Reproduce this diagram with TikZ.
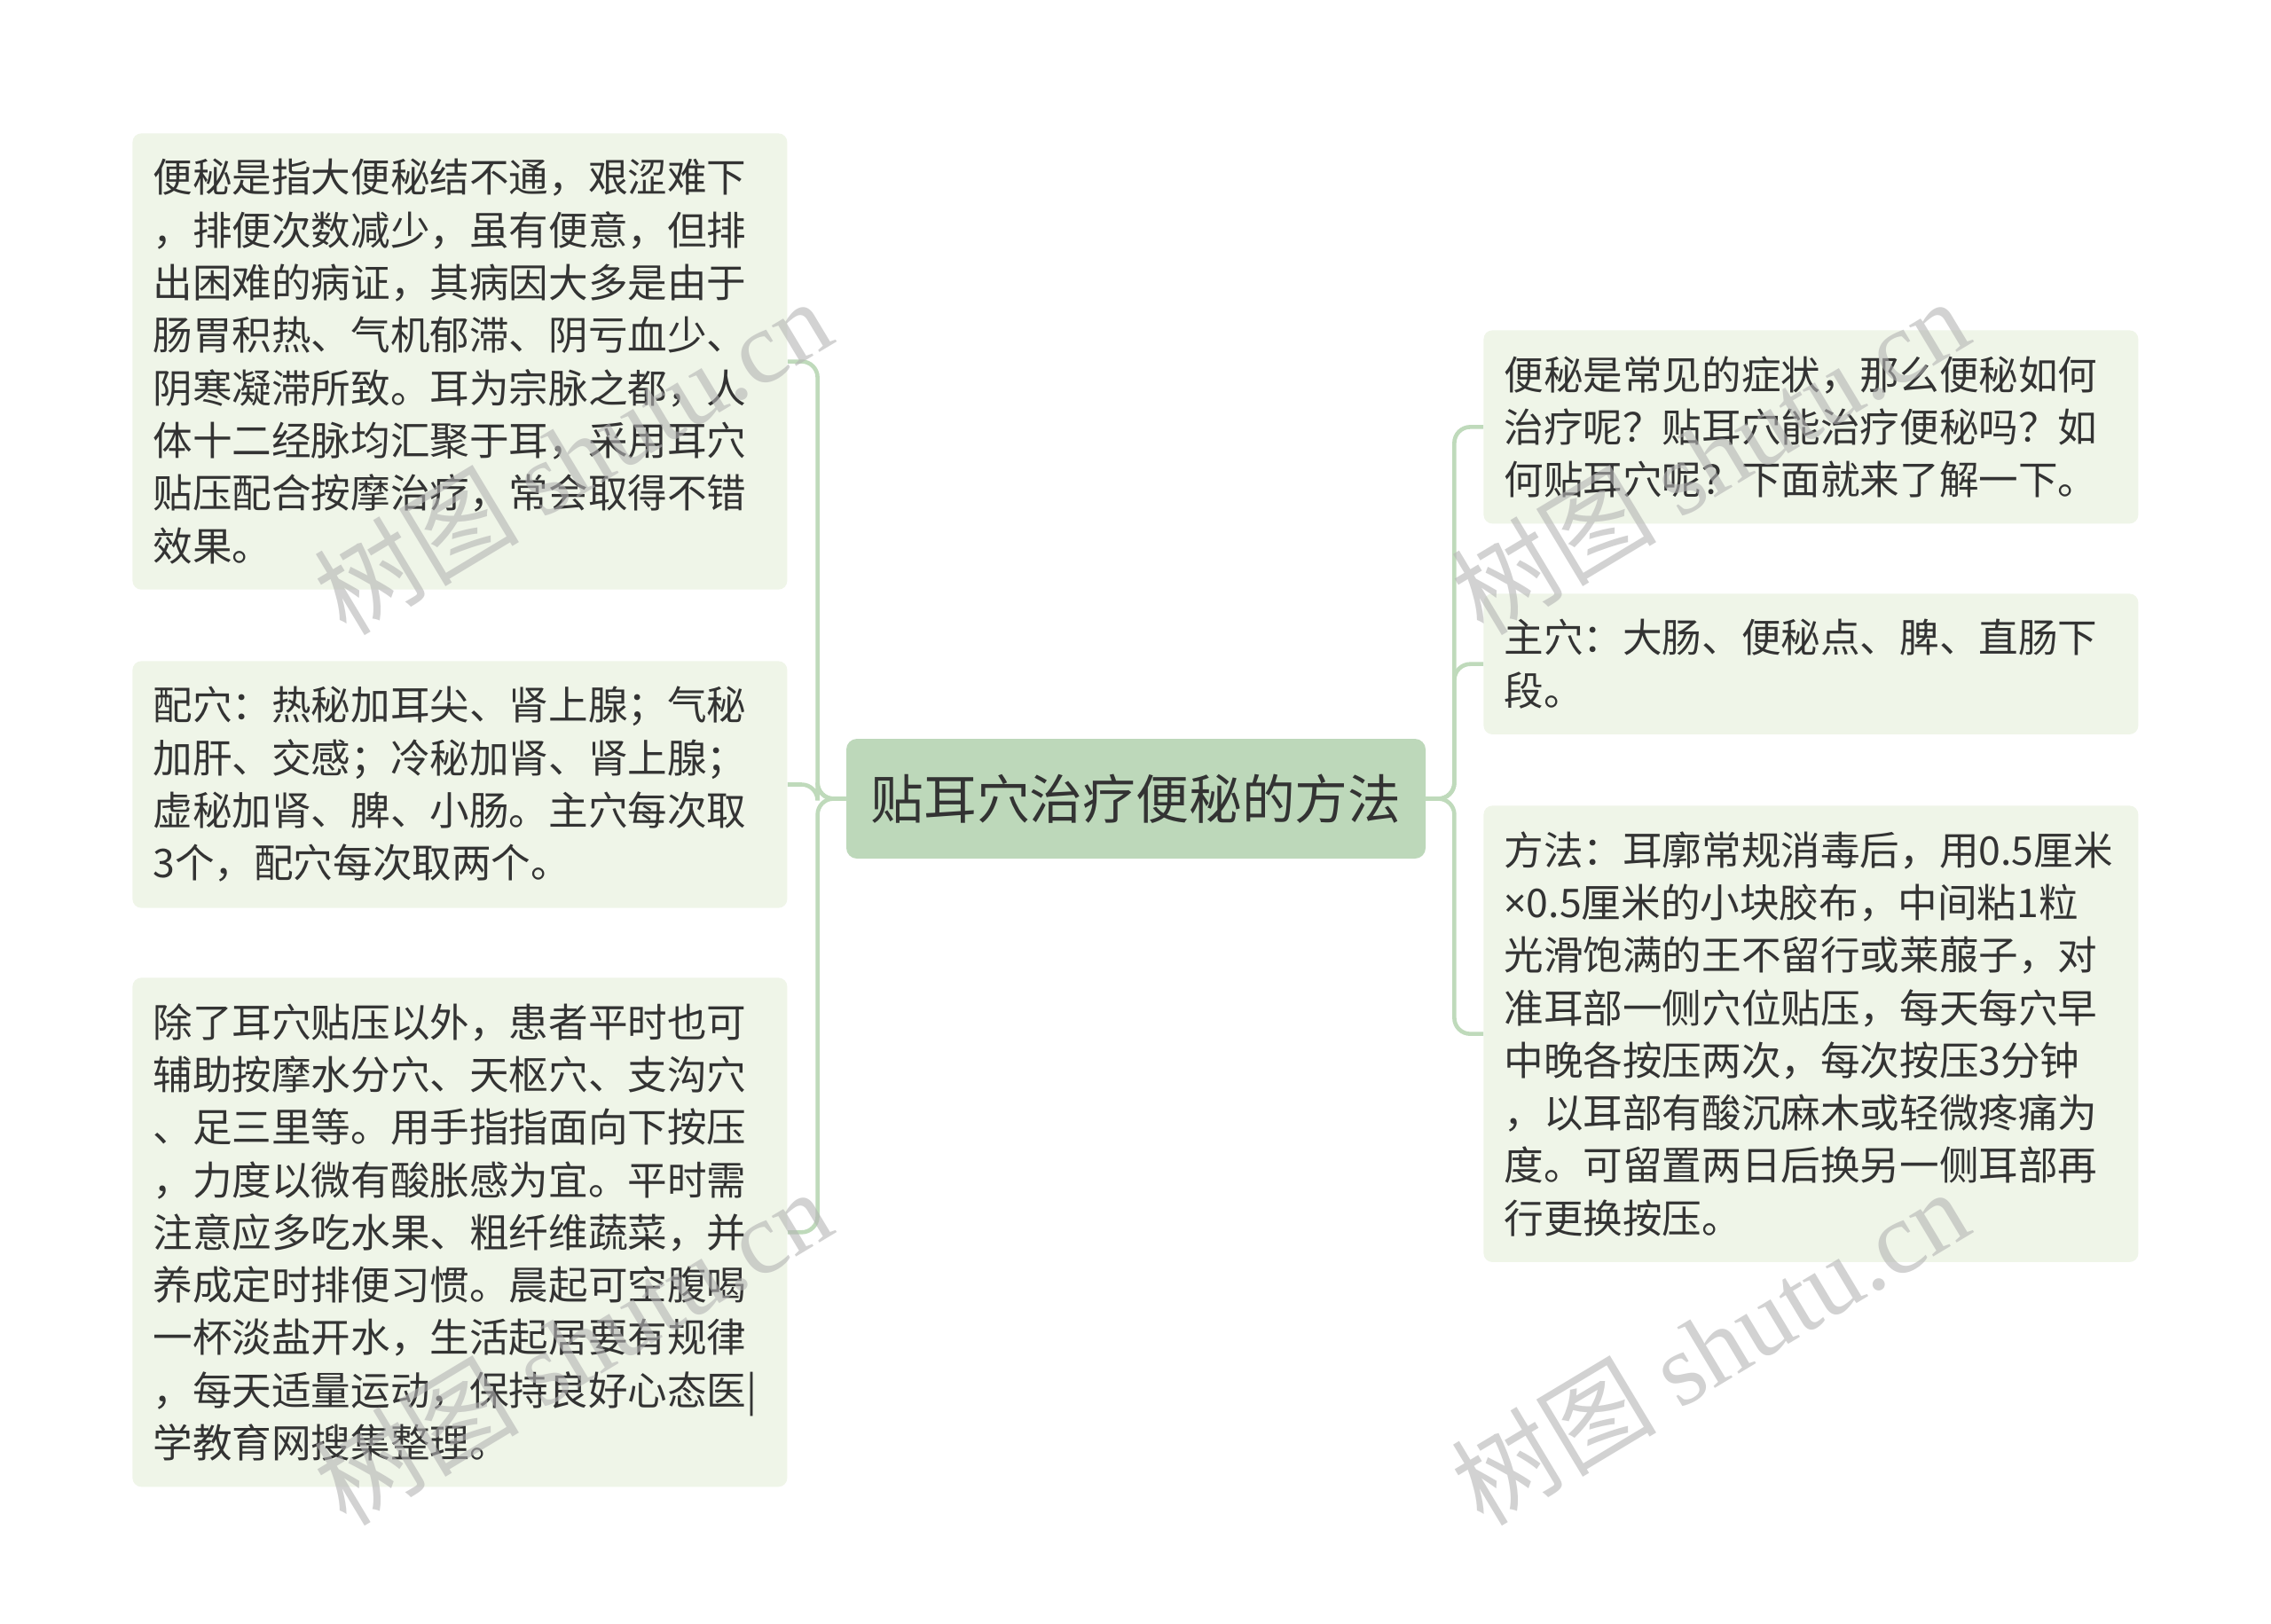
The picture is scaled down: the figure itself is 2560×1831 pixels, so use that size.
\documentclass[tikz,border=0pt]{standalone}
\usepackage{fontspec}
\setmainfont{Noto Sans CJK SC}
\newfontfamily\wmlatin{Liberation Serif}
\newfontfamily\symfont{Noto Sans}
\usepackage{tikz}

\definecolor{leaffill}{HTML}{EFF5E8}
\definecolor{rootfill}{HTML}{BDD8BA}
\definecolor{linkcol}{HTML}{BFDABB}
\definecolor{txtcol}{HTML}{333333}
\definecolor{wmcol}{HTML}{B4B4B4}

\begin{document}
\begin{tikzpicture}[x=0.5pt,y=0.5pt,yscale=-1,
    leaf/.style={fill=leaffill, rounded corners=5pt, anchor=north west, text width=346pt,
        inner xsep=11.5pt, inner ysep=14.5pt, align=left, text=txtcol,
        font=\fontsize{22.3}{29.65}\selectfont},
    root/.style={fill=rootfill, rounded corners=6pt, minimum width=326.5pt, minimum height=67.5pt,
        inner sep=0pt, text=txtcol, font=\fontsize{29.9}{36}\selectfont},
    link/.style={draw=linkcol, line width=2.3pt, rounded corners=9pt},
    wmark/.style={text=wmcol, opacity=0.6, rotate=31, inner sep=0pt}]

    \fill[white] (0,0) rectangle (2560,1831);
    \useasboundingbox (0,0) rectangle (2560,1831);

    % centre
    \node[root] (root) at (1280.5,900.5) {贴耳穴治疗便秘的方法};

    % left side
    \node[leaf] (defn) at (149,150) {便秘是指大便秘结不通，艰涩难下\\%
，排便次数减少，虽有便意，但排\\%
出困难的病证，其病因大多是由于\\%
肠胃积热、气机郁滞、阴亏血少、\\%
阴寒凝滞所致。耳为宗脉之都，人\\%
体十二经脉均汇聚于耳，采用耳穴\\%
贴压配合按摩治疗，常会取得不错\\%
效果。};

    \node[leaf] (pei) at (149,745) {配穴：热秘加耳尖、肾上腺；气秘\\%
加肝、交感；冷秘加肾、肾上腺；\\%
虚秘加肾、脾、小肠。主穴每次取\\%
3个，配穴每次取两个。};

    \node[leaf] (extra) at (149,1102) {除了耳穴贴压以外，患者平时也可\\%
辅助按摩水分穴、天枢穴、支沟穴\\%
、足三里等。用手指指面向下按压\\%
，力度以微有酸胀感为宜。平时需\\%
注意应多吃水果、粗纤维蔬菜，并\\%
养成定时排便习惯。晨起可空腹喝\\%
一杯淡盐开水，生活起居要有规律\\%
，每天适量运动，保持良好心态医|\\%
学教育网搜集整理。};

    % right side
    \node[leaf] (intro) at (1672,372) {便秘是常见的症状，那么便秘如何\\%
治疗呢？贴耳穴能治疗便秘吗？如\\%
何贴耳穴呢？下面就来了解一下。};

    \node[leaf] (zhu) at (1672,669) {主穴：大肠、便秘点、脾、直肠下\\%
段。};

    \node[leaf] (fangfa) at (1672,908) {方法：耳廓常规消毒后，用0.5厘米\\%
{\symfont ×}0.5厘米的小块胶布，中间粘1粒\\%
光滑饱满的王不留行或莱菔子，对\\%
准耳部一侧穴位贴压，每天每穴早\\%
中晚各按压两次，每次按压3分钟\\%
，以耳部有酸沉麻木或轻微疼痛为\\%
度。可留置两日后换另一侧耳部再\\%
行更换按压。};

    % links
    \foreach \n in {defn,pei,extra}
        \draw[link] (root.west) -- ++(-32,0) |- (\n.east);
    \foreach \n in {intro,zhu,fangfa}
        \draw[link] (root.east) -- ++(32,0) |- (\n.west);

    % watermarks
    \node[wmark] (wm1) at (645,514) {\fontsize{58}{60}\selectfont 树图 {\wmlatin shutu.cn}};
    \node[wmark] (wm2) at (1927,514) {\fontsize{58}{60}\selectfont 树图 {\wmlatin shutu.cn}};
    \node[wmark] (wm3) at (645,1518) {\fontsize{58}{60}\selectfont 树图 {\wmlatin shutu.cn}};
    \node[wmark] (wm4) at (1927,1518) {\fontsize{58}{60}\selectfont 树图 {\wmlatin shutu.cn}};
\end{tikzpicture}
\end{document}
